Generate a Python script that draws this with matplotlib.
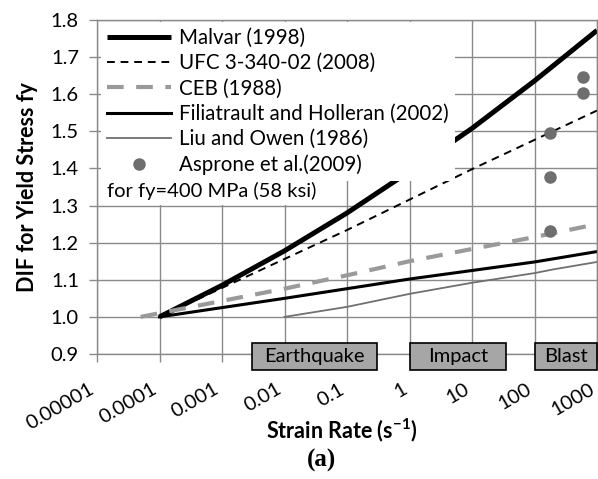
import numpy as np
import matplotlib
matplotlib.use("Agg")
import matplotlib.pyplot as plt
from matplotlib.patches import Rectangle
import matplotlib.transforms as mtransforms

plt.rcParams['font.family'] = ['Lato', 'DejaVu Sans']

# DIF curves for fy = 400 MPa, read at each decade of strain rate
malvar_rate = [1e-4, 1e-3, 1e-2, 1e-1, 1, 10, 100, 1000]
malvar_dif = [1.0, 1.085, 1.178, 1.280, 1.392, 1.508, 1.636, 1.772]

ufc_rate = [1e-4, 1e-3, 1e-2, 1e-1, 1, 10, 100, 1000]
ufc_dif = [1.0, 1.078, 1.156, 1.234, 1.316, 1.398, 1.477, 1.556]

ceb_rate = [5e-5, 1e-4, 1e-3, 1e-2, 1e-1, 1, 10, 100, 1000]
ceb_dif = [1.0, 1.010, 1.043, 1.076, 1.112, 1.150, 1.183, 1.215, 1.250]

fil_rate = [1e-4, 1e-3, 1e-2, 1e-1, 1, 10, 100, 1000]
fil_dif = [1.0, 1.025, 1.050, 1.076, 1.102, 1.125, 1.148, 1.176]

liu_rate = [1e-2, 1e-1, 1, 10, 100, 200, 1000]
liu_dif = [1.0, 1.027, 1.062, 1.092, 1.118, 1.128, 1.148]

# Asprone et al. (2009) test results
asp_rate = [180, 180, 180, 600, 600]
asp_dif = [1.495, 1.377, 1.231, 1.646, 1.603]

# strain-rate regimes shown along the axis
regime_names = ["Earthquake", "Impact", "Blast"]
regime_lo = [3e-3, 1, 100]
regime_hi = [0.3, 35, 1000]

xticks = [1e-5, 1e-4, 1e-3, 1e-2, 1e-1, 1, 10, 100, 1000]
xtick_labels = ["0.00001", "0.0001", "0.001", "0.01", "0.1", "1", "10", "100", "1000"]
yticks = [0.9, 1.0, 1.1, 1.2, 1.3, 1.4, 1.5, 1.6, 1.7, 1.8]

fig = plt.figure(figsize=(5.98, 4.79), dpi=100)
ax = fig.add_axes([97 / 598, 1 - 354 / 479, 500 / 598, 334 / 479])

grid_c = "#8a8a8a"
ax.plot(malvar_rate, malvar_dif, color="black", lw=3.6, label="Malvar (1998)", solid_capstyle="butt")
ax.plot(ufc_rate, ufc_dif, color="black", lw=1.4, ls=(0, (4, 3)), label="UFC 3-340-02 (2008)")
ax.plot(ceb_rate, ceb_dif, color="#9a9a9a", lw=3.0, ls=(0, (4, 3)), label="CEB (1988)")
ax.plot(fil_rate, fil_dif, color="black", lw=2.2, label="Filiatrault and Holleran (2002)")
ax.plot(liu_rate, liu_dif, color="#707070", lw=1.3, label="Liu and Owen (1986)")
ax.plot(asp_rate, asp_dif, "o", color="#6e6e6e", ms=8, label="Asprone et al.(2009)")

ax.set_xscale("log")
ax.set_xlim(1e-5, 1000)
ax.set_ylim(0.9, 1.8)
ax.set_xticks(xticks)
ax.set_xticklabels(xtick_labels, rotation=30, ha="right", va="top")
ax.xaxis.set_minor_locator(matplotlib.ticker.NullLocator())
ax.set_yticks(yticks)
ax.set_yticklabels([f"{v:.1f}" for v in yticks])
ax.tick_params(axis="both", which="major", direction="out", length=6, width=1,
               color=grid_c, labelsize=14.5)
ax.tick_params(axis="x", pad=13)
ax.tick_params(axis="y", pad=7)
ax.grid(True, color=grid_c, lw=1.0)
ax.set_axisbelow(True)
for s in ax.spines.values():
    s.set_color(grid_c)
    s.set_linewidth(1.0)

ax.set_ylabel("DIF for Yield Stress fy", fontsize=15.5, fontweight="bold", labelpad=9)
xl = ax.set_xlabel("Strain Rate (s$^{\\mathregular{-1}}$)", fontsize=15.5, fontweight="bold")
ax.xaxis.set_label_coords(0.49, -0.228)
xl.set_va("center")

leg = ax.legend(loc="upper left", bbox_to_anchor=(0.008, 0.995), fontsize=14.8,
                handlelength=3.1, handletextpad=0.4, labelspacing=0.26,
                borderpad=0.3, borderaxespad=0, fancybox=False, framealpha=1.0)
leg.get_frame().set_edgecolor("white")
leg.get_frame().set_linewidth(0)

ax.text(1.45e-5, 1.3 + 0.040, "for fy=400 MPa (58 ksi)", fontsize=14.5, va="center", ha="left",
        zorder=6, bbox=dict(facecolor="white", edgecolor="none", pad=4))

# regime boxes straddling the bottom axis
trans = mtransforms.blended_transform_factory(ax.transData, ax.transAxes)
for name, lo, hi in zip(regime_names, regime_lo, regime_hi):
    r = Rectangle((lo, -0.048), hi - lo, 0.081, transform=trans, facecolor="#a6a6a6",
                  edgecolor="black", lw=1.2, clip_on=False, zorder=7)
    ax.add_patch(r)
    ax.text(np.sqrt(lo * hi), -0.0075, name, transform=trans, ha="center", va="center",
            fontsize=14.5, zorder=8, clip_on=False)

fig.text(322 / 598, 1 - 460 / 479, "(a)", fontsize=18, fontweight="bold",
         family="Liberation Serif", ha="center", va="center")

fig.savefig("out.png", dpi=100)
